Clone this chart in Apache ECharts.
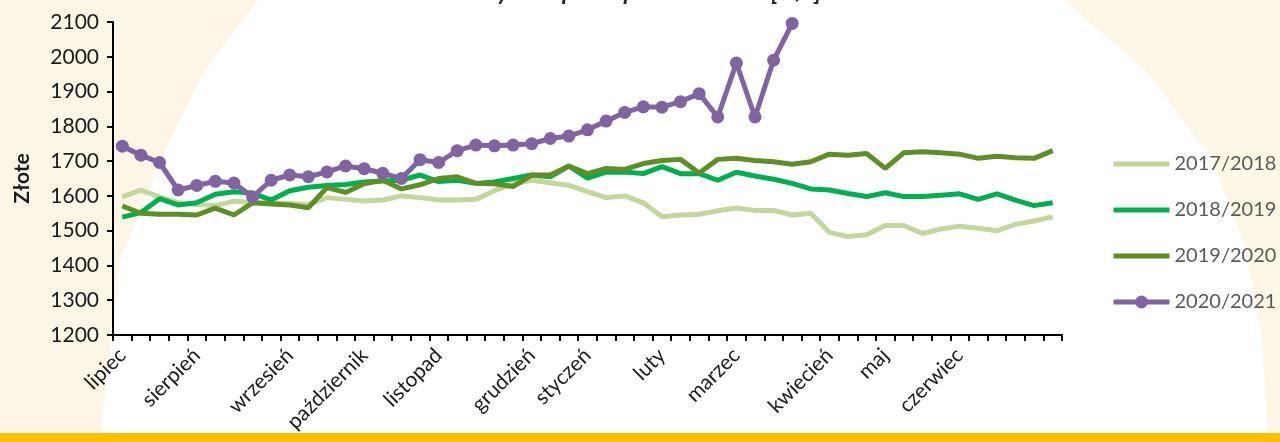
<!DOCTYPE html>
<html>
<head>
<meta charset="utf-8">
<script src="https://cdn.jsdelivr.net/npm/echarts@6/dist/echarts.min.js"></script>
<style>html,body{margin:0;padding:0;background:#fff}#c{width:1280px;height:442px}</style>
</head>
<body>
<div id="c"></div>
<script>
// Week categories (51), month label placed at the first week of each month
const monthNames = ['lipiec','sierpień','wrzesień','październik','listopad','grudzień','styczeń','luty','marzec','kwiecień','maj','czerwiec'];
const monthStart = [0,4,9,13,17,22,25,29,33,38,41,45];
const weekCount = 51;
const categories = [];
for (let i = 0; i < weekCount; i++) {
  const m = monthStart.indexOf(i);
  categories.push(m >= 0 ? monthNames[m] : '');
}

const seriesNames = ['2017/2018','2018/2019','2019/2020','2020/2021'];
const s2017 = [1597,1617,1597,1580,1575,1572,1585,1580,1580,1578,1575,1595,1590,1585,1588,1600,1595,1588,1588,1590,1615,1635,1645,1638,1630,1612,1595,1600,1580,1540,1545,1547,1557,1565,1558,1558,1545,1550,1495,1483,1488,1515,1515,1492,1505,1513,1507,1500,1518,1528,1540];
const s2018 = [1539,1552,1592,1574,1580,1605,1612,1608,1588,1615,1625,1630,1633,1640,1643,1645,1660,1641,1645,1636,1640,1650,1660,1655,1686,1651,1668,1669,1664,1684,1664,1664,1645,1668,1657,1648,1636,1620,1617,1607,1598,1609,1598,1598,1602,1606,1590,1606,1588,1572,1580];
const s2019 = [1571,1550,1547,1547,1545,1565,1545,1580,1577,1574,1566,1624,1610,1635,1645,1620,1632,1650,1655,1636,1635,1627,1660,1660,1686,1664,1679,1676,1693,1702,1705,1666,1705,1708,1702,1698,1691,1698,1720,1717,1722,1679,1724,1727,1724,1720,1708,1714,1710,1708,1730];
const s2020 = [1743,1717,1696,1617,1630,1642,1637,1597,1645,1660,1655,1669,1686,1678,1665,1650,1704,1696,1730,1746,1744,1746,1750,1765,1772,1790,1815,1840,1856,1855,1871,1894,1827,1982,1827,1990,2096];

const yMin = 1200, yMax = 2100, yStep = 100;

const chart = echarts.init(document.getElementById('c'), null, {renderer:'canvas'});
const FONT = 'Lato, "Open Sans", sans-serif';
// plain line legend icon (band in the middle of the icon box)
const LINE_ICON = 'path://M0,0L0.01,0M0,5.5L58,5.5L58,10.5L0,10.5ZM57.99,16L58,16';

function lineSeries(name, data, color, width, withSymbol) {
  return {
    name, type:'line', data,
    smooth:false,
    symbol: withSymbol ? 'circle' : 'none',
    symbolSize: 13,
    showSymbol: !!withSymbol,
    lineStyle:{color, width},
    itemStyle:{color},
    emphasis:{disabled:true},
    z: withSymbol ? 5 : 3
  };
}

chart.setOption({
  backgroundColor:'#ffffff',
  animation:false,
  textStyle:{fontFamily:FONT},
  title:{
    text:'Ceny zakupu rzepaku w Polsce [zł/t]',
    left:'center', top:-25,
    textStyle:{fontSize:24, fontWeight:'bold', fontStyle:'italic', color:'#262626', fontFamily:FONT}
  },
  graphic:[
    {type:'polygon', z:-10, shape:{points:[[0,0],[258,0],[205,70],[165,150],[120,260],[100,442],[0,442]]}, style:{fill:'#fdf6e6'}},
    {type:'polygon', z:-10, shape:{points:[[1065,0],[1280,0],[1280,442],[1268,442],[1262,340],[1245,245],[1212,160],[1150,75]]}, style:{fill:'#fef7e6'}},
    {type:'rect', z:100, shape:{x:0,y:433,width:1280,height:9}, style:{fill:'#ffc000'}}
  ],
  grid:{left:113, right:218, top:22, bottom:107, containLabel:false},
  legend:{
    orient:'vertical', left:1111, top:154, padding:0,
    itemWidth:56, itemHeight:16, itemGap:26,
    lineStyle:{width:5},
    textStyle:{fontSize:20, color:'#595959', fontFamily:FONT, lineHeight:18},
    data:[
      {name:seriesNames[0], icon:LINE_ICON},
      {name:seriesNames[1], icon:LINE_ICON},
      {name:seriesNames[2], icon:LINE_ICON},
      {name:seriesNames[3]}
    ]
  },
  xAxis:{
    type:'category', data:categories, boundaryGap:true,
    axisLine:{lineStyle:{color:'#000', width:2}},
    axisTick:{show:true, interval:0, length:6, lineStyle:{color:'#000', width:2}},
    axisLabel:{interval:0, rotate:45, fontSize:21, color:'#1a1a1a', margin:17, fontFamily:FONT}
  },
  yAxis:{
    type:'value', min:yMin, max:yMax, interval:yStep,
    name:'Złote', nameLocation:'middle', nameGap:80, nameRotate:90,
    nameTextStyle:{fontSize:21, fontWeight:'bold', color:'#1a1a1a', fontFamily:FONT},
    axisLine:{show:true, lineStyle:{color:'#000', width:2}},
    axisTick:{show:true, length:6, lineStyle:{color:'#000', width:2}},
    splitLine:{show:false},
    axisLabel:{fontSize:21, color:'#1a1a1a', margin:14, fontFamily:FONT, formatter:(v)=>String(v)}
  },
  series:[
    lineSeries(seriesNames[0], s2017, '#c3d69b', 5, false),
    lineSeries(seriesNames[1], s2018, '#00b050', 5, false),
    lineSeries(seriesNames[2], s2019, '#5e8f27', 5, false),
    lineSeries(seriesNames[3], s2020, '#8064a2', 5, true)
  ]
});
</script>
</body>
</html>
